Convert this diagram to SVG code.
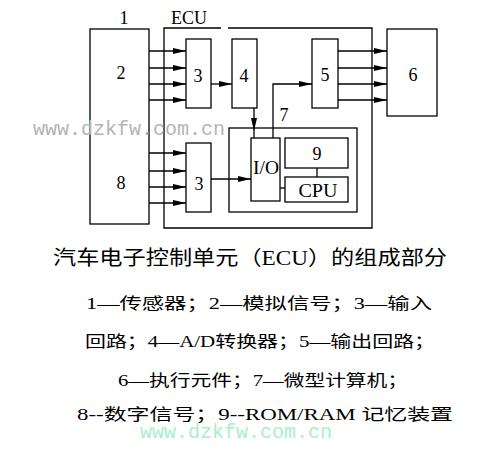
<svg xmlns="http://www.w3.org/2000/svg" width="480" height="451" viewBox="0 0 480 451">
<defs>
<marker id="ah" markerUnits="userSpaceOnUse" markerWidth="14" markerHeight="8" refX="13" refY="4" orient="auto">
<path d="M0,1 L13,4 L0,7 Z" fill="#000"/>
</marker>
</defs>
<style>
.b{fill:none;stroke:#000;stroke-width:1.3}
.c{fill:none;stroke:#000;stroke-width:1.3}
.a{fill:none;stroke:#000;stroke-width:1.3;marker-end:url(#ah)}
.t{font-family:"Liberation Serif","Noto Sans CJK SC",serif;font-size:18px;fill:#000;text-anchor:middle}
.cap{font-family:"Liberation Serif","Noto Sans CJK SC",serif;font-size:20px;fill:#000}
.leg{font-family:"Liberation Serif","Noto Sans CJK SC",serif;font-size:16px;fill:#000}
.wm{font-family:"Liberation Mono",monospace;font-size:20px}
</style>
<rect width="480" height="451" fill="#fff"/>
<g id="ecu">
<path class="b" d="M228,28 H372 V228 H164 V28 H221"/>
<text class="t" x="189" y="24">ECU</text>
</g>
<g id="n1">
<rect class="b" x="90" y="29" width="59" height="195"/>
<text class="t" x="124" y="24">1</text>
<text class="t" x="121" y="79">2</text>
<text class="t" x="121" y="189">8</text>
</g>
<g id="n3a"><rect class="b" x="186" y="39" width="25" height="69"/><text class="t" x="198" y="82">3</text></g>
<g id="n4"><rect class="b" x="232" y="39" width="25" height="69"/><text class="t" x="244" y="82">4</text></g>
<g id="n5"><rect class="b" x="312" y="39" width="26" height="69"/><text class="t" x="325" y="81">5</text></g>
<g id="n6"><rect class="b" x="387" y="29" width="50" height="87"/><text class="t" x="413" y="81">6</text></g>
<g id="n3b"><rect class="b" x="186" y="143" width="25" height="69"/><text class="t" x="199" y="190">3</text></g>
<g id="n7"><rect class="b" x="229" y="128" width="128" height="84"/><text class="t" x="284" y="121">7</text></g>
<g id="nio"><rect class="b" x="251" y="138" width="29" height="63"/><text class="t" x="266" y="174" textLength="26" lengthAdjust="spacingAndGlyphs">I/O</text></g>
<g id="n9"><rect class="b" x="285" y="138" width="63" height="30"/><text class="t" x="317" y="160">9</text></g>
<g id="ncpu"><rect class="b" x="285" y="177" width="63" height="25"/><text class="t" x="318" y="197" textLength="39" lengthAdjust="spacingAndGlyphs">CPU</text></g>
<g id="connectors">
<line class="a" x1="149" y1="51" x2="186" y2="51"/>
<line class="a" x1="149" y1="68" x2="186" y2="68"/>
<line class="a" x1="149" y1="84" x2="186" y2="84"/>
<line class="a" x1="149" y1="100" x2="186" y2="100"/>
<line class="a" x1="149" y1="153" x2="186" y2="153"/>
<line class="a" x1="149" y1="171" x2="186" y2="171"/>
<line class="a" x1="149" y1="187" x2="186" y2="187"/>
<line class="a" x1="149" y1="203" x2="186" y2="203"/>
<line class="a" x1="211" y1="84" x2="232" y2="84"/>
<line class="a" x1="211" y1="179" x2="251" y2="179"/>
<line class="a" x1="338" y1="51" x2="387" y2="51"/>
<line class="a" x1="338" y1="68" x2="387" y2="68"/>
<line class="a" x1="338" y1="84" x2="387" y2="84"/>
<line class="a" x1="338" y1="100" x2="387" y2="100"/>
<line class="a" x1="254" y1="108" x2="254" y2="131"/>
<line class="c" x1="254" y1="131" x2="254" y2="138"/>
<path class="a" d="M273,138 V84 H312"/>
<line class="c" x1="317" y1="168" x2="317" y2="177"/>
<line class="c" x1="280" y1="188" x2="285" y2="188"/>
</g>
<text class="wm" x="33" y="135" fill="#b4b4b4">www.dzkfw.com.cn</text>
<text class="cap" x="53" y="265" textLength="394" lengthAdjust="spacingAndGlyphs">汽车电子控制单元（ECU）的组成部分</text>
<text class="leg" x="86" y="309" textLength="346" lengthAdjust="spacingAndGlyphs">1—传感器；2—模拟信号；3—输入</text>
<text class="leg" x="85" y="347" textLength="350" lengthAdjust="spacingAndGlyphs">回路；4—A/D转换器；5—输出回路；</text>
<text class="leg" x="118" y="386" textLength="290" lengthAdjust="spacingAndGlyphs">6—执行元件；7—微型计算机；</text>
<text class="leg" x="77" y="420" textLength="376" lengthAdjust="spacingAndGlyphs">8--数字信号；9--ROM/RAM 记忆装置</text>
<text class="wm" x="140" y="438" fill="#a8f0c8">www.dzkfw.com.cn</text>
</svg>
